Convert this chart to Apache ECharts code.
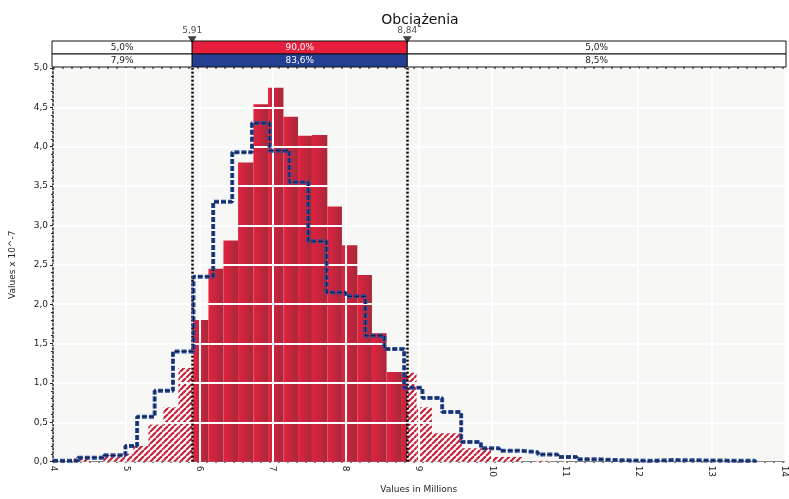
<!DOCTYPE html>
<html><head><meta charset="utf-8">
<script src="https://cdn.jsdelivr.net/npm/echarts@6/dist/echarts.min.js"></script>
<style>html,body{margin:0;background:#fff}#c{width:789px;height:499px}</style>
</head><body><div id="c"></div>
<script>
// histogram bins (Millions) and densities (x10^-7)
const binEdges = [4.075, 4.28, 4.485, 4.69, 4.895, 5.10, 5.305, 5.51, 5.715, 5.92, 6.125, 6.33, 6.53, 6.74, 6.94, 7.15, 7.35, 7.54, 7.75, 7.95, 8.16, 8.36, 8.56, 8.77, 8.97, 9.18, 9.38, 9.59, 9.79, 10.0, 10.2, 10.41, 10.6, 10.8];
const binHeights = [0, 0.04, 0, 0.08, 0.1, 0.2, 0.47, 0.69, 1.19, 1.8, 2.45, 2.81, 3.8, 4.54, 4.75, 4.38, 4.14, 4.15, 3.24, 2.75, 2.37, 1.63, 1.14, 1.13, 0.69, 0.36, 0.36, 0.17, 0.17, 0.06, 0.06, 0, 0.01];
// comparison distribution (step line): [start x, value]
const stepPoints = [[4.0,0.01],[4.34,0.05],[4.7,0.08],[4.99,0.2],[5.15,0.57],[5.39,0.9],[5.64,1.4],[5.92,2.35],[6.19,3.3],[6.45,3.93],[6.72,4.3],[6.96,3.95],[7.23,3.55],[7.49,2.8],[7.74,2.15],[8.0,2.1],[8.27,1.6],[8.53,1.43],[8.8,0.94],[9.05,0.81],[9.32,0.63],[9.58,0.25],[9.85,0.17],[10.1,0.14],[10.37,0.12],[10.63,0.09],[10.9,0.06],[11.16,0.03],[11.43,0.02],[11.7,0.01],[12.2,0.02],[12.5,0.01],[13.5,0.01],[13.6,0]];
const lowCut = 5.91, highCut = 8.84;
const redPct = ["5,0%", "90,0%", "5,0%"];
const bluePct = ["7,9%", "83,6%", "8,5%"];
const xTicks = [4, 5, 6, 7, 8, 9, 10, 11, 12, 13, 14];
const darkVLines = [5, 6, 8, 10, 12];

// hatch pattern
const hc = document.createElement("canvas");
hc.width = 6; hc.height = 6;
const g = hc.getContext("2d");
g.fillStyle = "#fff"; g.fillRect(0, 0, 6, 6);
g.strokeStyle = "#c8233c"; g.lineWidth = 2.2;
for (let k = -6; k <= 12; k += 6) { g.beginPath(); g.moveTo(k, 6); g.lineTo(k + 6, 0); g.stroke(); }
const hatch = { image: hc, repeat: "repeat" };

// split bins at the cut points
const pieces = [];
binHeights.forEach((h, i) => {
  if (!h) return;
  let cuts = [binEdges[i], binEdges[i + 1]];
  [lowCut, highCut].forEach(c => { if (c > cuts[0] && c < cuts[cuts.length - 1]) cuts.splice(1, 0, c); });
  cuts.sort((a, b) => a - b);
  for (let j = 0; j < cuts.length - 1; j++) {
    const mid = (cuts[j] + cuts[j + 1]) / 2;
    pieces.push([cuts[j], cuts[j + 1], h, mid > lowCut && mid < highCut ? 1 : 0]);
  }
});

const bandData = [];
[redPct, bluePct].forEach((arr, row) => {
  const xs = [4, lowCut, highCut, 14];
  arr.forEach((t, k) => bandData.push([xs[k], xs[k + 1], row, k === 1 ? 1 : 0, t]));
});

const chart = echarts.init(document.getElementById("c"));
const font = "DejaVu Sans";
chart.setOption({
  animation: false,
  title: { text: "Obciążenia", left: 415, top: 8, textAlign: "center",
    textStyle: { fontFamily: font, fontSize: 14, fontWeight: "normal", color: "#111" } },
  grid: [
    { left: 52, right: 3, top: 68, bottom: 31, show: true, backgroundColor: "#f7f7f5", borderWidth: 0 },
    { left: 52, right: 3, top: 41, height: 26 }
  ],
  xAxis: [
    { type: "value", min: 4, max: 14, interval: 1, gridIndex: 0,
      name: "Values in Millions", nameLocation: "middle", nameGap: 22,
      nameTextStyle: { fontFamily: font, fontSize: 9, color: "#222" },
      axisLine: { lineStyle: { color: "#888" } }, axisTick: { show: false },
      axisLabel: { rotate: -90, fontFamily: font, fontSize: 9, color: "#222", margin: 4 },
      splitLine: { show: false } },
    { type: "value", min: 4, max: 14, gridIndex: 1, show: false }
  ],
  yAxis: [
    { type: "value", min: 0, max: 5, interval: 0.5, gridIndex: 0,
      name: "Values x 10^-7", nameLocation: "middle", nameGap: 36,
      nameTextStyle: { fontFamily: font, fontSize: 9, color: "#222" },
      axisLine: { show: true, lineStyle: { color: "#222", type: [2, 2], width: 1.5 } },
      axisTick: { show: true, length: 3, lineStyle: { color: "#222" } },
      minorTick: { show: true, splitNumber: 5, length: 2, lineStyle: { color: "#222" } },
      axisLabel: { fontFamily: font, fontSize: 9, color: "#222", margin: 5,
        formatter: v => v.toFixed(1).replace(".", ",") },
      splitLine: { show: true, lineStyle: { color: "#555", type: [2, 7], width: 1.5 } } },
    { type: "value", min: 0, max: 2, inverse: true, gridIndex: 1, show: false }
  ],
  series: [
    { // dark dotted verticals behind
      type: "line", data: [], xAxisIndex: 0, yAxisIndex: 0, silent: true,
      markLine: { symbol: "none", silent: true, label: { show: false },
        lineStyle: { color: "#333", type: [2, 8], width: 2 },
        data: darkVLines.map(v => ({ xAxis: v })) }
    },
    {
      type: "custom", xAxisIndex: 0, yAxisIndex: 0, data: pieces, z: 3,
      renderItem: (params, api) => {
        const p0 = api.coord([api.value(0), api.value(2)]);
        const p1 = api.coord([api.value(1), 0]);
        const solid = api.value(3) === 1;
        return { type: "rect", shape: { x: p0[0], y: p0[1], width: p1[0] - p0[0], height: p1[1] - p0[1] },
          style: { fill: solid ? new echarts.graphic.LinearGradient(0, 0, 1, 0,
            [{ offset: 0, color: "#e3223f" }, { offset: 1, color: "#a8283b" }]) : hatch } };
      },
      markLine: { symbol: "none", silent: true, label: { show: false },
        lineStyle: { color: "#fff", type: "solid", width: 2 },
        data: xTicks.slice(1, -1).map(v => ({ xAxis: v })).concat(
          [0.5, 1, 1.5, 2, 2.5, 3, 3.5, 4, 4.5].map(v => ({ yAxis: v }))) }
    },
    {
      type: "line", xAxisIndex: 0, yAxisIndex: 0, data: stepPoints, step: "end", z: 5,
      showSymbol: false, lineStyle: { color: "#2a4a9a", width: 4, type: [5, 2] }
    },
    {
      type: "line", xAxisIndex: 0, yAxisIndex: 0, data: stepPoints, step: "end", z: 6,
      showSymbol: false, lineStyle: { color: "#0c1a3a", width: 1, type: [5, 2] },
      markLine: { symbol: "none", silent: true, label: { show: false },
        lineStyle: { color: "#000", type: [2, 2], width: 2.5 },
        data: [{ xAxis: lowCut }, { xAxis: highCut }] }
    },
    {
      type: "custom", xAxisIndex: 1, yAxisIndex: 1, data: bandData, z: 4, clip: false,
      renderItem: (params, api) => {
        const r = api.value(2);
        const p0 = api.coord([api.value(0), r]);
        const p1 = api.coord([api.value(1), r + 1]);
        const hi = api.value(3) === 1;
        const fill = hi ? (r === 0 ? "#e81f3c" : "#243f91") : "#fff";
        return { type: "group", children: [
          { type: "rect", shape: { x: p0[0], y: p0[1], width: p1[0] - p0[0], height: p1[1] - p0[1] },
            style: { fill: fill, stroke: "#111", lineWidth: 1 } },
          { type: "text", style: { text: bandData[params.dataIndex][4], x: (p0[0] + p1[0]) / 2, y: (p0[1] + p1[1]) / 2,
            align: "center", verticalAlign: "middle", font: "9px " + font, fill: hi ? "#fff" : "#222" } }
        ] };
      }
    },
    {
      type: "scatter", xAxisIndex: 1, yAxisIndex: 1, z: 6, clip: false,
      data: [[lowCut, -0.1], [highCut, -0.1]],
      symbol: "triangle", symbolRotate: 180, symbolSize: [9, 7],
      itemStyle: { color: "#111" },
      label: { show: true, position: "top", distance: 1, fontFamily: font, fontSize: 9, color: "#222",
        formatter: p => p.value[0].toFixed(2).replace(".", ",") }
    }
  ]
});
</script>
</body></html>
